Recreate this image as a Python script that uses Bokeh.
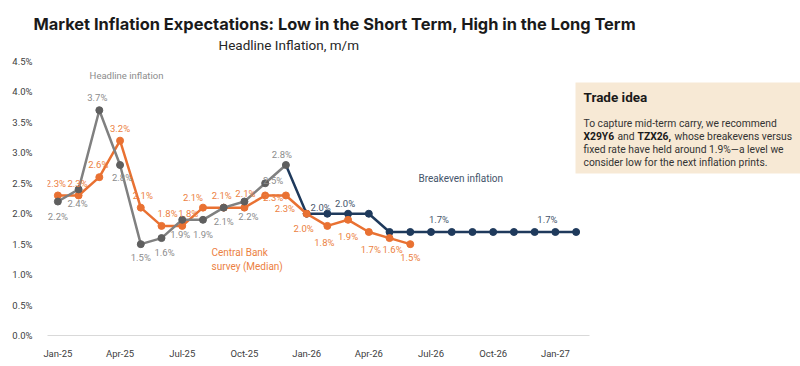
from bokeh.plotting import figure
from bokeh.models import (Range1d, FixedTicker, PrintfTickFormatter, Label, Title,
                          BoxAnnotation, ColumnDataSource)
from bokeh.core.properties import value
from bokeh.embed import file_html
from bokeh.resources import INLINE

# ---------------- data ----------------
months = ["Jan-25", "Feb-25", "Mar-25", "Apr-25", "May-25", "Jun-25", "Jul-25", "Aug-25",
          "Sep-25", "Oct-25", "Nov-25", "Dec-25", "Jan-26", "Feb-26", "Mar-26", "Apr-26",
          "May-26", "Jun-26", "Jul-26", "Aug-26", "Sep-26", "Oct-26", "Nov-26", "Dec-26",
          "Jan-27", "Feb-27"]
tick_months = ["Jan-25", "Apr-25", "Jul-25", "Oct-25", "Jan-26", "Apr-26", "Jul-26", "Oct-26", "Jan-27"]

headline_months = months[0:12]           # Jan-25 .. Dec-25
headline = [2.2, 2.4, 3.7, 2.8, 1.5, 1.6, 1.9, 1.9, 2.1, 2.2, 2.5, 2.8]

survey_months = months[0:18]             # Jan-25 .. Jun-26
survey = [2.3, 2.3, 2.6, 3.2, 2.1, 1.8, 1.8, 2.1, 2.1, 2.1, 2.3, 2.3, 2.0, 1.8, 1.9, 1.7, 1.6, 1.5]

breakeven_months = months[11:26]         # Dec-25 .. Feb-27
breakeven = [2.8, 2.0, 2.0, 2.0, 2.0, 1.7, 1.7, 1.7, 1.7, 1.7, 1.7, 1.7, 1.7, 1.7, 1.7]
breakeven_labelled = ["Jan-26", "Mar-26", "Jul-26", "Jan-27"]

y_ticks = [0.0, 0.5, 1.0, 1.5, 2.0, 2.5, 3.0, 3.5, 4.0, 4.5]

# ---------------- styles / positions ----------------
GREY_LINE = "#808080"
GREY_DOT = "#5f5f5f"
GREY_TXT = "#8c8c8c"
ORANGE = "#e97132"
ORANGE_TXT = "#ec7f42"
NAVY = "#1f3a5c"
NAVY_TXT = "#44546a"
FONT = "Roboto"
TFONT = "Inter"

headline_off = [(0, 15), (-1, 14), (-2, -13), (2, 12), (0, 13), (3, 14), (-2, 15), (0, 15),
                (0, 14), (4, 15), (8, -3), (-4, -11)]
survey_off = [(-2, -12), (-1, -12), (-1, -13), (0, -12), (2, -12), (6, -12), (6, -12), (-10, -10),
              (-2, -12), (1, -14), (8, 2), (-1, 13), (-3, 15), (-3, 17), (0, 17), (2, 18),
              (3, 11), (0, 13)]
breakeven_off = [(14, -6), (-3, -10), (8, -12), (-8, -12)]

W, H = 800, 366
FL, FT, FB = 47, 53, 335        # frame left / top / bottom (page px)
PXM = 20.73                     # px per month
PYU = 60.89                     # px per 1 percentage point
X0 = -0.5
x_end = X0 + (W - FL) / PXM
y_end = (FB - FT) / PYU


def X(page_x):
    return X0 + (page_x - FL) / PXM


def Y(page_y):
    return (FB - page_y) / PYU


idx = {m: i for i, m in enumerate(months)}

p = figure(width=W, height=H, output_backend="svg", toolbar_location=None, title=None,
           x_range=Range1d(X0, x_end), y_range=Range1d(0, y_end),
           min_border_left=FL, min_border_right=0, min_border_top=FT, min_border_bottom=H - FB)
p.outline_line_color = None
p.grid.visible = False
p.background_fill_color = "white"
p.border_fill_color = "white"

# titles
p.add_layout(Title(text="Headline Inflation, m/m", align="left", offset=218 - FL,
                   text_font=FONT, text_font_size="13.5px", text_font_style="normal",
                   text_color="#262626", standoff=2), "above")
p.add_layout(Title(text="Market Inflation Expectations: Low in the Short Term, High in the Long Term",
                   align="left", offset=33 - FL, text_font=TFONT, text_font_size="16.4px",
                   text_font_style="bold", text_color="#1a1a1a", standoff=0), "above")

# axes
p.xaxis.ticker = FixedTicker(ticks=[idx[m] for m in tick_months])
p.xaxis.major_label_overrides = {idx[m]: m for m in tick_months}
p.xaxis.bounds = (X0, X(589))
p.xaxis.axis_line_color = "#d9d9d9"
p.xaxis.axis_line_width = 1
p.xaxis.major_tick_line_color = None
p.xaxis.minor_tick_line_color = None
p.xaxis.major_label_standoff = 6
p.yaxis.ticker = FixedTicker(ticks=y_ticks)
p.yaxis.formatter = PrintfTickFormatter(format="%.1f%%")
p.yaxis.axis_line_color = None
p.yaxis.major_tick_line_color = None
p.yaxis.minor_tick_line_color = None
p.yaxis.major_label_standoff = 9
for ax in (p.xaxis, p.yaxis):
    ax.major_label_text_font = FONT
    ax.major_label_text_font_size = "9.5px"
    ax.major_label_text_color = "#404040"

# series
hx = [idx[m] for m in headline_months]
sx = [idx[m] for m in survey_months]
bx = [idx[m] for m in breakeven_months]

p.line(bx, breakeven, line_color=NAVY, line_width=2.5)
p.scatter(bx[1:], breakeven[1:], size=7, fill_color=NAVY, line_color=NAVY)
p.line(sx, survey, line_color=ORANGE, line_width=2.5)
p.scatter(sx, survey, size=7, fill_color=ORANGE, line_color=ORANGE)
p.line(hx, headline, line_color=GREY_LINE, line_width=2.5)
p.scatter(hx, headline, size=7, fill_color=GREY_DOT, line_color=GREY_DOT)


def data_labels(xs, ys, offs, color):
    src = ColumnDataSource(dict(x=xs, y=ys, t=[f"{v:.1f}%" for v in ys],
                                xo=[o[0] for o in offs], yo=[o[1] for o in offs]))
    p.text(x="x", y="y", text="t", x_offset="xo", y_offset="yo", source=src,
           text_font=value(FONT), text_font_size="9.5px", text_color=color,
           text_align="center", text_baseline="middle")


data_labels(hx, headline, headline_off, GREY_TXT)
data_labels(sx, survey, survey_off, ORANGE_TXT)
bl_x = [idx[m] for m in breakeven_labelled]
bl_y = [breakeven[breakeven_months.index(m)] for m in breakeven_labelled]
data_labels(bl_x, bl_y, breakeven_off, NAVY_TXT)


def note(txt, px, py, color, size="9.5px", style="normal", align="left"):
    p.add_layout(Label(x=X(px), y=Y(py), text=txt, text_font=FONT, text_font_size=size,
                       text_color=color, text_font_style=style, text_align=align,
                       text_baseline="middle"))


# series names
note("Headline inflation", 126, 75, GREY_TXT, align="center")
note("Central Bank", 211, 252, ORANGE_TXT, size="10px")
note("survey (Median)", 211, 266, ORANGE_TXT, size="10px")
note("Breakeven inflation", 418, 178, NAVY_TXT, size="10px")

# trade idea box
p.add_layout(BoxAnnotation(left=X(575), right=x_end, top=Y(82), bottom=Y(173),
                           fill_color="#f7e9d5", fill_alpha=1, line_color=None))
BS = "10.3px"
note("Trade idea", 583, 96, "#1a1a1a", size="13.5px", style="bold")
note("To capture mid-term carry, we recommend", 583, 123, "#333333", size=BS)
note("X29Y6", 583, 136, "#1a1a1a", size=BS, style="bold")
note("and", 617, 136, "#333333", size=BS)
note("TZX26,", 637, 136, "#1a1a1a", size=BS, style="bold")
note("whose breakevens versus", 674, 136, "#333333", size=BS)
note("fixed rate have held around 1.9%\u2014a level we", 583, 149, "#333333", size=BS)
note("consider low for the next inflation prints.", 583, 162, "#333333", size=BS)

open("out.html", "w").write(file_html(p, INLINE))
